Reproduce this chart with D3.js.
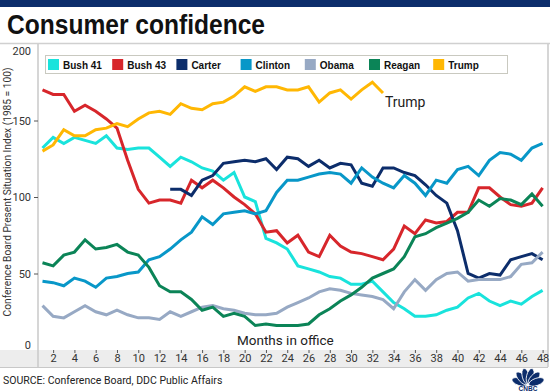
<!DOCTYPE html>
<html>
<head>
<meta charset="utf-8">
<script src="https://cdn.jsdelivr.net/npm/d3@7"></script>
<style>
  body { margin: 0; background: #fff; }
  svg { display: block; font-family: "Liberation Sans", Arial, sans-serif; }
</style>
</head>
<body>
<div id="app"></div>
<script>
// values (index, 1985 = 100), month 1..48
let months = d3.range(1, 49)
let bush41 = [132,139,135,139,137,135,140,132,131,132,132,126,120,126,123,119,117,111,116,100,97,73,70,66,55,53,51,48,47,43,43,45,38,31,27,22,22,23,26,28,34,37,32,29,32,30,35,39]
let bush43 = [170,167,167,156,160,156,151,145,124,105,96,98,98,96,111,106,111,106,100,95,89,77,78,70,75,64,61,75,68,64,63,61,59,66,81,76,85,83,84,90,90,106,106,100,95,94,96,106]
let carter = [null,null,null,null,null,null,null,null,null,null,null,null,105,105,101,111,114,122,123,124,123,125,118,126,125,120,124,119,122,121,109,107,119,119,116,114,108,101,96,78,50,47,50,49,59,61,63,59]
let clinton = [45,44,42,47,45,41,47,48,50,51,59,61,66,72,77,87,82,89,90,91,89,91,103,111,111,113,115,116,115,109,119,113,109,106,114,109,101,111,109,118,120,114,124,129,128,124,132,135]
let obama = [29,22,21,25,29,25,23,26,23,21,21,20,25,22,25,28,29,27,26,24,23,23,24,28,31,34,38,40,39,37,36,35,33,27,38,46,39,46,50,51,45,46,46,46,48,56,57,64]
let reagan = [57,55,62,64,72,66,67,69,64,62,54,42,38,38,33,26,28,22,24,22,16,17,16,16,16,17,23,27,32,36,41,47,50,53,61,74,76,80,83,86,90,98,94,99,98,95,102,94]
let trump = [130,134,144,140,140,144,145,148,146,151,155,156,154,161,158,157,161,162,166,172,169,172,172,170,170,172,162,168,170,164,170,175,168]

let names = ["Bush 41", "Bush 43", "Carter", "Clinton", "Obama", "Reagan", "Trump"]
let colors = ["#19e3dc", "#d7262b", "#0c2d6b", "#0897c8", "#97a9c4", "#0b8457", "#ffb703"]
let yTicks = [0, 50, 100, 150, 200]
let xTicks = d3.range(2, 49, 2)

let series = [bush41, bush43, carter, clinton, obama, reagan, trump]

let width = 550, height = 392
let svg = d3.select("#app").append("svg")
    .attr("width", width)
    .attr("height", height)

// top bar + title
svg.append("rect").attr("x", 0).attr("y", 0).attr("width", width).attr("height", 7).attr("fill", "#0c2d6b")
svg.append("text")
    .attr("x", 7).attr("y", 34)
    .attr("font-size", 27).attr("font-weight", "bold")
    .attr("textLength", 258).attr("lengthAdjust", "spacingAndGlyphs")
    .attr("fill", "#111")
    .text("Consumer confidence")

let plotLeft = 38, plotRight = 548, plotTop = 44, plotBottom = 350

let x = d3.scaleLinear().domain([1, 48]).range([42.5, 542.6])
let y = d3.scaleLinear().domain([0, 200]).range([plotBottom, plotTop])

// frame lines
svg.append("line").attr("x1", 0).attr("x2", width).attr("y1", 43.5).attr("y2", 43.5)
    .attr("stroke", "#d0d0d0").attr("stroke-width", 1.5)
// x axis band
svg.append("rect").attr("x", 0).attr("y", plotBottom).attr("width", plotRight).attr("height", 17)
    .attr("fill", "#ededed")
svg.append("line").attr("x1", 0).attr("x2", plotRight).attr("y1", plotBottom + 17.5).attr("y2", plotBottom + 17.5)
    .attr("stroke", "#c8c8c8")
svg.append("line").attr("x1", plotLeft).attr("x2", plotLeft).attr("y1", plotTop).attr("y2", plotBottom + 17)
    .attr("stroke", "#c8c8c8").attr("stroke-width", 1.5)
svg.append("line").attr("x1", plotRight).attr("x2", plotRight).attr("y1", plotTop).attr("y2", plotBottom + 17)
    .attr("stroke", "#c8c8c8").attr("stroke-width", 1.5)

// y axis
let yAxis = svg.append("g")
    .attr("transform", "translate(" + plotLeft + ",0)")
    .call(d3.axisLeft(y).tickValues(yTicks).tickSize(4).tickPadding(3))
yAxis.select(".domain").remove()
yAxis.selectAll("line").attr("stroke", "#555")
yAxis.selectAll("text").attr("font-size", 11).attr("fill", "#333")
    .attr("font-family", "Roboto, sans-serif")
// top and bottom labels sit inside, no tick
yAxis.selectAll(".tick").filter(d => d === 0 || d === 200).select("line").remove()
yAxis.selectAll(".tick").filter(d => d === 200).select("text").attr("dy", "0.95em")
yAxis.selectAll(".tick").filter(d => d === 0).select("text").attr("dy", "-0.1em")

svg.append("text")
    .attr("transform", "translate(11,192) rotate(-90)")
    .attr("text-anchor", "middle")
    .attr("font-size", 10.2).attr("fill", "#333")
    .attr("font-family", "Roboto, sans-serif")
    .text("Conference Board Present Situation Index (1985 = 100)")

// x axis
let xAxis = svg.append("g")
    .attr("transform", "translate(0," + plotBottom + ")")
    .call(d3.axisBottom(x).tickValues(xTicks).tickSize(3).tickPadding(1))
xAxis.select(".domain").remove()
xAxis.selectAll("line").attr("stroke", "#555")
xAxis.selectAll("text").attr("font-size", 11).attr("fill", "#333")
    .attr("font-family", "Roboto, sans-serif")

// lines
let line = d3.line()
    .defined(d => d != null)
    .x((d, i) => x(months[i]))
    .y(d => y(d))

svg.append("g")
    .selectAll("path")
    .data(series)
    .enter().append("path")
    .attr("d", d => line(d))
    .attr("fill", "none")
    .attr("stroke", (d, i) => colors[i])
    .attr("stroke-width", 3)
    .attr("stroke-linejoin", "miter")

// legend
let legend = svg.append("g")
legend.append("rect")
    .attr("x", 45.5).attr("y", 55.5).attr("width", 462).attr("height", 18)
    .attr("fill", "#fff").attr("stroke", "#c9c9c0").attr("stroke-width", 1)
let item = legend.selectAll("g.item")
    .data(names)
    .enter().append("g")
    .attr("class", "item")
    .attr("transform", (d, i) => "translate(" + (48 + i * 64.2) + ",59)")
item.append("rect").attr("width", 11).attr("height", 11).attr("fill", (d, i) => colors[i])
item.append("text")
    .attr("x", 15).attr("y", 9.5)
    .attr("font-size", 10).attr("font-weight", "bold").attr("fill", "#111")
    .text(d => d)

// annotations
svg.append("text")
    .attr("x", 385).attr("y", 107)
    .attr("font-size", 14).attr("fill", "#222")
    .attr("font-family", "Roboto, sans-serif")
    .text("Trump")
svg.append("text")
    .attr("x", 237).attr("y", 345)
    .attr("font-size", 13.5).attr("fill", "#222")
    .attr("font-family", "Roboto, sans-serif")
    .text("Months in office")

// source
svg.append("text")
    .attr("x", 3).attr("y", 384)
    .attr("font-size", 10.5).attr("fill", "#222")
    .attr("font-family", "Roboto, sans-serif")
    .text("SOURCE: Conference Board, DDC Public Affairs")

// CNBC peacock (rough)
let logo = svg.append("g").attr("transform", "translate(528,385)")
let feathers = [-70, -42, -14, 14, 42, 70]
logo.selectAll("ellipse")
    .data(feathers)
    .enter().append("ellipse")
    .attr("cx", 0).attr("cy", -9)
    .attr("rx", 3.6).attr("ry", 8)
    .attr("transform", d => "rotate(" + d + ")")
    .attr("fill", "#0c2d6b")
    .attr("stroke", "#fff").attr("stroke-width", 0.8)
logo.append("text")
    .attr("x", 0).attr("y", 6)
    .attr("text-anchor", "middle")
    .attr("font-size", 6.5).attr("font-weight", "bold").attr("fill", "#0c2d6b")
    .text("CNBC")
</script>
</body>
</html>
